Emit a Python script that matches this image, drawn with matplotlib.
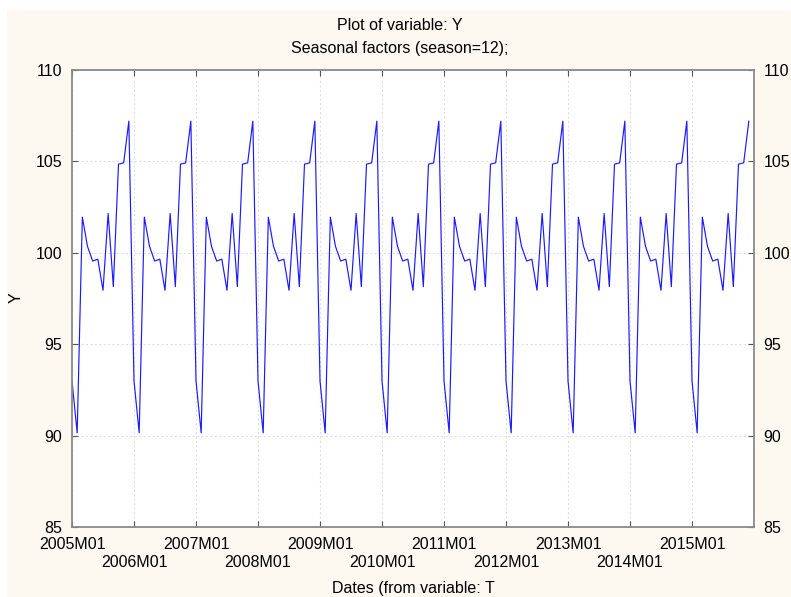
import matplotlib
matplotlib.use("Agg")
import matplotlib.pyplot as plt
from matplotlib.patches import Rectangle
import numpy as np

plt.rcParams['font.family'] = ['Liberation Sans', 'DejaVu Sans']

# Seasonal factors (season = 12), Jan..Dec
seasonal_factors = [93.0, 90.15, 101.95, 100.35, 99.55, 99.65, 97.95, 102.15, 98.15, 104.85, 104.92, 107.2]
years = list(range(2005, 2016))
months_per_year = 12
y_values = seasonal_factors * len(years)
x_index = np.arange(len(y_values))
tick_labels = [f"{y}M01" for y in years]

W, H, DPI = 791, 597, 100
fig = plt.figure(figsize=(W / DPI, H / DPI), dpi=DPI, facecolor='white')
fig.patches.append(Rectangle((7 / W, 0), 1 - 7 / W, (H - 10) / H, transform=fig.transFigure,
                             facecolor='#fdf8f0', edgecolor='none', zorder=-10))

ax = fig.add_axes([72 / W, (H - 527) / H, 682 / W, 457 / H])
ax.set_facecolor('white')
ax.plot(x_index, y_values, color='#1a1aff', linewidth=0.85)

ax.set_xlim(0, len(y_values))
ax.set_ylim(85, 110)
ax.set_yticks(np.arange(85, 111, 5))

tick_pos = [i * months_per_year for i in range(len(years))]
labels = [lab if i % 2 == 0 else "\n" + lab for i, lab in enumerate(tick_labels)]
ax.set_xticks(tick_pos)
ax.set_xticklabels(labels, linespacing=1.25)

fs = 11.5
ax.tick_params(axis='both', direction='in', length=4, width=0.8, color='#555555', labelsize=fs,
               top=True, right=True, labelright=True)
ax.tick_params(axis='x', pad=7)
ax.tick_params(axis='y', pad=7)

for s in ax.spines.values():
    s.set_color('#8a8a8a')
    s.set_linewidth(1.3)

ax.grid(True, color='#e0e0e0', linestyle=(0, (2, 2)), linewidth=0.8)
ax.set_axisbelow(True)

fig.text(400 / W, 1 - 25 / H, "Plot of variable: Y", ha='center', va='center', fontsize=fs)
fig.text(400 / W, 1 - 49 / H, "Seasonal factors (season=12);", ha='center', va='center', fontsize=fs)
fig.text(413 / W, 1 - 588 / H, "Dates (from variable: T", ha='center', va='center', fontsize=fs)
fig.text(16 / W, 1 - 298 / H, "Y", ha='center', va='center', rotation=90, fontsize=fs)

fig.savefig("out.png", dpi=DPI, facecolor=fig.get_facecolor())
